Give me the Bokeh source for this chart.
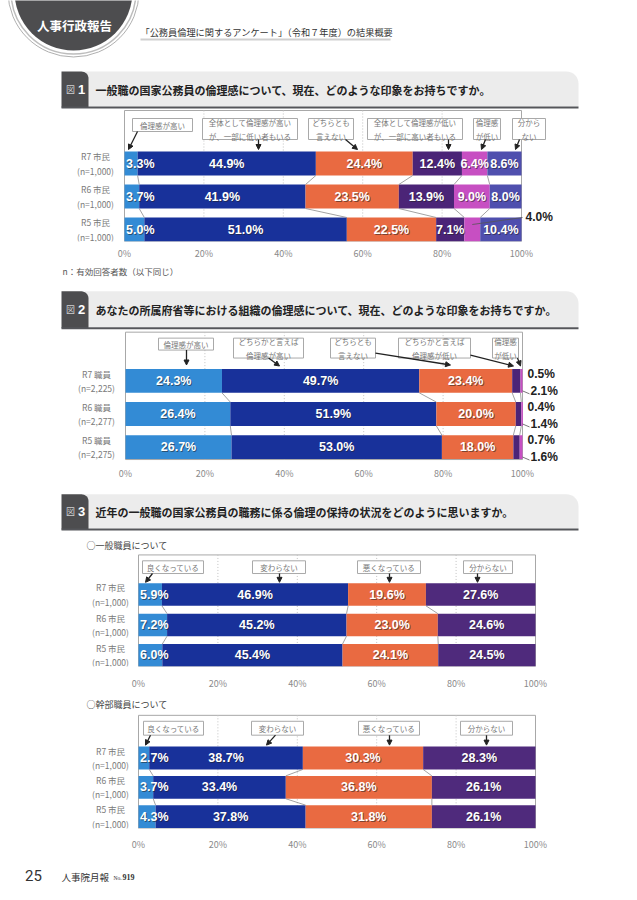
import math

from bokeh.core.properties import value
from bokeh.embed import file_html
from bokeh.layouts import column
from bokeh.models import Arrow, FixedTicker, Label, LinearAxis, NormalHead, Range1d
from bokeh.plotting import figure
from bokeh.resources import INLINE

W = 637
JP = "Noto Sans CJK JP"
NUM = "Liberation Sans"

# ---------------- data ----------------
pct_ticks = [0, 20, 40, 60, 80, 100]
pct_tick_labels = ["0%", "20%", "40%", "60%", "80%", "100%"]

# Fig.1  impression of the ethics of national public servants (citizens)
fig1_rows = ["R7 市民\n(n=1,000)", "R6 市民\n(n=1,000)", "R5 市民\n(n=1,000)"]
fig1_cats = ["倫理感が高い", "全体として倫理感が高い\nが、一部に低い者もいる", "どちらとも\n言えない",
             "全体として倫理感が低い\nが、一部に高い者もいる", "倫理感\nが低い", "分から\nない"]
fig1_high = [3.3, 3.7, 5.0]
fig1_mostly_high = [44.9, 41.9, 51.0]
fig1_neutral = [24.4, 23.5, 22.5]
fig1_mostly_low = [12.4, 13.9, 7.1]
fig1_low = [6.4, 9.0, 4.0]
fig1_unknown = [8.6, 8.0, 10.4]

# Fig.2  ethics of the organisation (staff)
fig2_rows = ["R7 職員\n(n=2,225)", "R6 職員\n(n=2,277)", "R5 職員\n(n=2,275)"]
fig2_cats = ["倫理感が高い", "どちらかと言えば\n倫理感が高い", "どちらとも\n言えない",
             "どちらかと言えば\n倫理感が低い", "倫理感\nが低い"]
fig2_high = [24.3, 26.4, 26.7]
fig2_rather_high = [49.7, 51.9, 53.0]
fig2_neutral = [23.4, 20.0, 18.0]
fig2_rather_low = [2.1, 1.4, 1.6]
fig2_low = [0.5, 0.4, 0.7]

# Fig.3  recent trend (citizens)
fig3_rows = ["R7 市民\n(n=1,000)", "R6 市民\n(n=1,000)", "R5 市民\n(n=1,000)"]
fig3_cats = ["良くなっている", "変わらない", "悪くなっている", "分からない"]
fig3a_better = [5.9, 7.2, 6.0]
fig3a_same = [46.9, 45.2, 45.4]
fig3a_worse = [19.6, 23.0, 24.1]
fig3a_unknown = [27.6, 24.6, 24.5]
fig3b_better = [2.7, 3.7, 4.3]
fig3b_same = [38.7, 33.4, 37.8]
fig3b_worse = [30.3, 36.8, 31.8]
fig3b_unknown = [28.3, 26.1, 26.1]

# ---------------- colours ----------------
C_LBLUE = "#338bd5"
C_NAVY = "#18319a"
C_ORANGE = "#e96a41"
C_PURPLE = "#4b2477"
C_PINK = "#c74fc2"
C_PERI = "#4f4fae"
C_PURPLE3 = "#4f2a7c"


def section(top, bottom, frame_bottom):
    p = figure(width=W, height=bottom - top,
               x_range=Range1d(0, W), y_range=Range1d(frame_bottom, top),
               x_axis_type=None, y_axis_type=None,
               output_backend="svg", toolbar_location=None, min_border=0)
    p.min_border_bottom = bottom - frame_bottom
    p.outline_line_color = None
    p.background_fill_color = "white"
    p.border_fill_color = "white"
    return p


def rounded_tr(x0, x1, y0, y1, r):
    """Rectangle outline whose top-right corner is rounded (y grows downward)."""
    xs, ys = [x0, x0, x1 - r], [y1, y0, y0]
    for i in range(1, 9):
        t = math.radians(90 * i / 8)
        xs.append(x1 - r + r * math.sin(t))
        ys.append(y0 + r - r * math.cos(t))
    xs.append(x1)
    ys.append(y1)
    return xs, ys


def title_bar(p, y0, y1, num, text):
    xl, xs, xr = 61, 88, 578
    gx, gy = rounded_tr(xs - 4, xr, y0, y1, 12)
    p.patch(gx, gy, fill_color="#ececec", line_color=None)
    dx, dy = rounded_tr(xl, xs, y0, y1 + 1, 7)
    p.patch(dx, dy, fill_color="#4d4d4f", line_color=None)
    p.segment([xl], [y1 + 1], [xr], [y1 + 1], line_color="#55565a", line_width=2)
    p.text([70], [(y0 + y1) / 2 + 0.5], ["図"], text_align="center", text_baseline="middle",
           text_font=value(JP), text_font_size="9px", text_color="#cfcfcf")
    p.text([81], [(y0 + y1) / 2 + 0.5], [num], text_align="center", text_baseline="middle",
           text_font=value(NUM), text_font_style="bold", text_font_size="13px", text_color="white")
    p.text([95], [(y0 + y1) / 2 + 1], [text], text_align="left", text_baseline="middle",
           text_font=value(JP), text_font_style="bold", text_font_size="11px", text_color="#222222")


def callouts(p, cats, geoms):
    for txt, (bx0, bx1, by0, by1, sx, sy, ex, ey) in zip(cats, geoms):
        p.quad(left=[bx0], right=[bx1], top=[by0], bottom=[by1],
               fill_color="white", line_color="#a9a9a9", line_width=1)
        p.text([(bx0 + bx1) / 2], [(by0 + by1) / 2 + 0.5], [txt], text_align="center",
               text_baseline="middle", text_font=value(JP), text_font_size="7.5px",
               text_color="#777777", text_line_height=1.25)
        p.add_layout(Arrow(end=NormalHead(size=5, fill_color="#222222", line_color="#222222"),
                           x_start=sx, y_start=sy, x_end=ex, y_end=ey,
                           line_color="#222222", line_width=1.3))


def chart(p, series, colors, rows, x0, x1, c0, pitch, bar_h, box_top, box_bottom,
          frame_top, frame_bottom, row_label_x, standoff):
    k = 100.0 / (x1 - x0)
    p.extra_x_ranges = {"pct": Range1d(-x0 * k, (W - x0) * k)}
    p.extra_y_ranges = {"rows": Range1d((frame_bottom - c0) / pitch, (frame_top - c0) / pitch)}
    n = len(rows)
    idx = list(range(n))
    h = bar_h / pitch

    # frame and vertical guides
    p.quad(left=[0], right=[100], top=[box_top], bottom=[box_bottom], fill_color=None,
           line_color="#a8a8a8", line_width=1, x_range_name="pct")
    grid = pct_ticks[1:-1]
    p.segment(grid, [box_top] * len(grid), grid, [box_bottom] * len(grid),
              line_color="#c2c2c2", line_width=1, line_dash="1 2", x_range_name="pct")

    # stacked bars
    cum = [[0.0] for _ in idx]
    for ser in series:
        for r in idx:
            cum[r].append(cum[r][-1] + ser[r])
    for j, ser in enumerate(series):
        p.hbar(y=idx, left=[cum[r][j] for r in idx], right=[cum[r][j + 1] for r in idx],
               height=h, fill_color=colors[j], line_color=None,
               x_range_name="pct", y_range_name="rows")

    # thin lines joining segment borders of consecutive rows
    xs0, ys0, xs1, ys1 = [], [], [], []
    for j in range(1, len(series)):
        for r in range(n - 1):
            xs0.append(cum[r][j]); ys0.append(r + h / 2)
            xs1.append(cum[r + 1][j]); ys1.append(r + 1 - h / 2)
    p.segment(xs0, ys0, xs1, ys1, line_color="#8c8c8c", line_width=0.8,
              x_range_name="pct", y_range_name="rows")

    # row names
    p.text([row_label_x] * n, idx, rows, text_align="center", text_baseline="middle",
           text_font=value(JP), text_font_size="8.5px", text_color="#7a7a7a",
           text_line_height=1.2, y_range_name="rows")

    # value labels (white with a soft dark shadow)
    cx, cy, ct, lx, ly, lt, outside = [], [], [], [], [], [], []
    for j, ser in enumerate(series):
        for r in idx:
            v = ser[r]
            txt = f"{v:.1f}%"
            if j == 0 and v < 10:
                lx.append(cum[r][0]); ly.append(r); lt.append(txt)
            elif v < 5:
                outside.append((r, j, txt))
            else:
                cx.append((cum[r][j] + cum[r][j + 1]) / 2); cy.append(r); ct.append(txt)
    base = dict(text_baseline="middle", text_font=value(NUM), text_font_style="bold",
                text_font_size="12.5px", x_range_name="pct", y_range_name="rows")
    p.text(cx, cy, ct, text_align="center", text_color="#202020", text_alpha=0.55,
           x_offset=1, y_offset=1, **base)
    p.text(lx, ly, lt, text_align="left", text_color="#202020", text_alpha=0.55,
           x_offset=2.5, y_offset=1, **base)
    p.text(cx, cy, ct, text_align="center", text_color="white", **base)
    p.text(lx, ly, lt, text_align="left", text_color="white", x_offset=1.5, **base)

    # percentage axis
    ax = LinearAxis(x_range_name="pct", ticker=FixedTicker(ticks=pct_ticks),
                    major_label_overrides=dict(zip(pct_ticks, pct_tick_labels)),
                    axis_line_color=None, major_tick_line_color=None, minor_tick_line_color=None,
                    major_tick_in=0, major_tick_out=0, minor_tick_in=0, minor_tick_out=0,
                    major_label_standoff=standoff, major_label_text_font=JP,
                    major_label_text_font_size="9px", major_label_text_color="#8a8a8a")
    p.add_layout(ax, "below")
    return cum, outside, k, pitch


def outside_label(p, x, y, txt):
    p.add_layout(Label(x=x, y=y, text=txt, x_range_name="pct", y_range_name="rows",
                       text_align="left", text_baseline="middle", text_font=NUM,
                       text_font_style="bold", text_font_size="12px", text_color="#222222"))


# ---------------- page header + Fig.1 ----------------
p0 = section(0, 262, 241)
p0.circle(x=[73], y=[-9], radius=[65.5], fill_color=None, line_color="#9a9a9a", line_width=0.8)
p0.circle(x=[73], y=[-9], radius=[62.5], fill_color=None, line_color="#bdbdbd", line_width=1.5)
p0.circle(x=[73], y=[-9], radius=[59], fill_color="#4d4d4f", line_color=None)
p0.text([74], [25], ["人事行政報告"], text_align="center", text_baseline="middle",
        text_font=value(JP), text_font_style="bold", text_font_size="12.5px", text_color="white")
p0.text([140], [31], ["「公務員倫理に関するアンケート」（令和７年度）の結果概要"], text_align="left",
        text_baseline="middle", text_font=value(JP), text_font_size="9.2px", text_color="#333333")
p0.segment([140], [39], [390], [39], line_color="#cfcfcf", line_width=2.2)

title_bar(p0, 71, 106, "1", "一般職の国家公務員の倫理感について、現在、どのような印象をお持ちですか。")
cum1, out1, k1, pitch1 = chart(
    p0, [fig1_high, fig1_mostly_high, fig1_neutral, fig1_mostly_low, fig1_low, fig1_unknown],
    [C_LBLUE, C_NAVY, C_ORANGE, C_PURPLE, C_PINK, C_PERI], fig1_rows,
    124, 521, 163, 33, 24, 110, 241, 0, 241, 95, 5)
for r, j, txt in out1:
    mid = (cum1[r][j] + cum1[r][j + 1]) / 2
    p0.segment([mid], [r - 5 / pitch1], [100 + 1 * k1], [r - 12 / pitch1], line_color="#555555",
               line_width=0.8, x_range_name="pct", y_range_name="rows")
    outside_label(p0, 100 + 4 * k1, r - 13 / pitch1, txt)
callouts(p0, fig1_cats, [
    (132, 192, 118, 131, 137, 131, 128, 149),
    (202, 297, 118, 139, 258, 139, 258, 149),
    (308, 353, 118, 139, 345, 139, 357, 149),
    (367, 462, 118, 139, 448, 139, 448, 149),
    (473, 500, 118, 139, 485, 139, 481, 149),
    (512, 545, 118, 139, 519, 139, 515, 149),
])

# ---------------- Fig.2 ----------------
p1 = section(262, 482, 467)
p1.text([62], [271], ["n：有効回答者数（以下同じ）"], text_align="left", text_baseline="middle",
        text_font=value(JP), text_font_size="8.5px", text_color="#555555")
title_bar(p1, 291, 327, "2", "あなたの所属府省等における組織の倫理感について、現在、どのような印象をお持ちですか。")
cum2, out2, k2, pitch2 = chart(
    p1, [fig2_high, fig2_rather_high, fig2_neutral, fig2_rather_low, fig2_low],
    [C_LBLUE, C_NAVY, C_ORANGE, C_PURPLE, C_PINK], fig2_rows,
    125, 522, 381, 33.25, 24, 332, 460, 262, 467, 96, 0)
for r, j, txt in out2:
    if j == len(cum2[r]) - 2:
        outside_label(p1, 100 + 5 * k2, r - 7 / pitch2, txt)
    else:
        p1.segment([100], [r + 10 / pitch2], [100 + 7 * k2], [r + 13 / pitch2], line_color="#555555",
                   line_width=0.8, x_range_name="pct", y_range_name="rows")
        outside_label(p1, 100 + 8 * k2, r + 10 / pitch2, txt)
callouts(p1, fig2_cats, [
    (158, 213, 338, 350, 186, 350, 186, 365),
    (233, 303, 338, 358, 268, 358, 279, 366),
    (330, 375, 338, 358, 375, 353, 450, 365),
    (398, 470, 338, 358, 470, 355, 513, 366),
    (492, 518, 338, 358, 517, 358, 520, 366),
])

# ---------------- Fig.3 (general staff) ----------------
p2 = section(482, 692, 670)
title_bar(p2, 494, 529, "3", "近年の一般職の国家公務員の職務に係る倫理の保持の状況をどのように思いますか。")
p2.text([86], [546], ["○一般職員について"], text_align="left", text_baseline="middle",
        text_font=value(JP), text_font_size="9px", text_color="#444444")
chart(p2, [fig3a_better, fig3a_same, fig3a_worse, fig3a_unknown],
      [C_LBLUE, C_NAVY, C_ORANGE, C_PURPLE3], fig3_rows,
      138, 535, 596.5, 31, 23, 556, 670, 482, 670, 110, 10)
callouts(p2, fig3_cats, [
    (142, 203, 562, 575, 152, 575, 145, 584),
    (252, 305, 562, 575, 279, 575, 279, 584),
    (357, 420, 562, 575, 389, 575, 389, 584),
    (463, 512, 562, 575, 477, 575, 477, 584),
])

# ---------------- Fig.3 (senior staff) ----------------
p3 = section(692, 853, 829)
p3.text([86], [704], ["○幹部職員について"], text_align="left", text_baseline="middle",
        text_font=value(JP), text_font_size="9px", text_color="#444444")
chart(p3, [fig3b_better, fig3b_same, fig3b_worse, fig3b_unknown],
      [C_LBLUE, C_NAVY, C_ORANGE, C_PURPLE3], fig3_rows,
      138, 535, 758, 29.5, 23, 715, 829, 692, 829, 110, 9)
callouts(p3, fig3_cats, [
    (143, 203, 721, 735, 150, 735, 145, 745),
    (251, 303, 721, 735, 275, 735, 266, 745),
    (358, 419, 721, 735, 389, 735, 389, 745),
    (460, 512, 721, 735, 486, 735, 486, 745),
])

# ---------------- footer ----------------
p4 = section(853, 900, 900)
p4.text([33], [875], ["25"], text_align="center", text_baseline="middle",
        text_font=value("Roboto"), text_font_size="15px", text_color="#333333")
p4.text([61], [876], ["人事院月報"], text_align="left", text_baseline="middle",
        text_font=value(JP), text_font_size="9.5px", text_color="#333333")
p4.text([113], [877], ["No."], text_align="left", text_baseline="middle",
        text_font=value("Liberation Serif"), text_font_size="5.5px", text_color="#333333")
p4.text([122], [876], ["919"], text_align="left", text_baseline="middle",
        text_font=value("Liberation Serif"), text_font_style="bold", text_font_size="8px",
        text_color="#333333")

page = column(p0, p1, p2, p3, p4, spacing=0)
open("out.html", "w").write(file_html(page, INLINE))
